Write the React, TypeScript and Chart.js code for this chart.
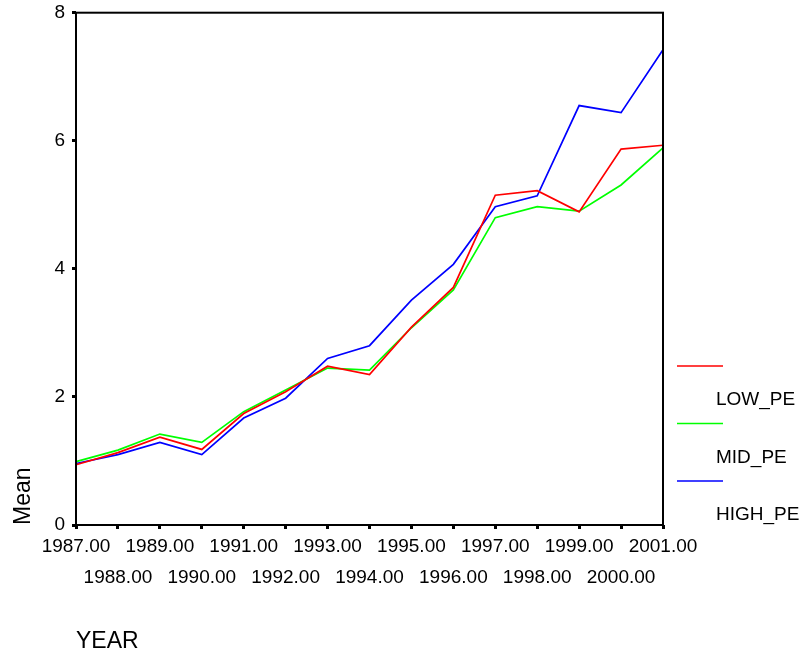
import React, { useEffect, useRef } from "react";
import { Chart, registerables } from "chart.js";
Chart.register(...registerables);

const years = [
  "1987.00", "1988.00", "1989.00", "1990.00", "1991.00", "1992.00", "1993.00", "1994.00",
  "1995.00", "1996.00", "1997.00", "1998.00", "1999.00", "2000.00", "2001.00",
];
const lowPE = [0.94, 1.13, 1.37, 1.18, 1.74, 2.08, 2.48, 2.35, 3.09, 3.71, 5.15, 5.22, 4.89, 5.87, 5.93];
const midPE = [0.99, 1.17, 1.42, 1.29, 1.77, 2.11, 2.45, 2.42, 3.08, 3.67, 4.8, 4.97, 4.9, 5.31, 5.89];
const highPE = [0.96, 1.1, 1.29, 1.1, 1.67, 1.98, 2.6, 2.8, 3.51, 4.07, 4.97, 5.14, 6.55, 6.44, 7.42];
const seriesNames = ["LOW_PE", "MID_PE", "HIGH_PE"];
const seriesColors = ["#ff0000", "#00ff00", "#0000ff"];
const yTicks = [0, 2, 4, 6, 8];

const FONT = "'Liberation Sans', Arial, sans-serif";

const framePlugin = {
  id: "frame",
  afterDraw(chart: any) {
    const { ctx, chartArea } = chart;
    ctx.save();
    ctx.strokeStyle = "#000";
    ctx.lineWidth = 2;
    ctx.strokeRect(chartArea.left, chartArea.top, chartArea.right - chartArea.left, chartArea.bottom - chartArea.top);
    ctx.restore();
  },
};

const legendPlugin = {
  id: "spssLegend",
  afterDraw(chart: any) {
    const { ctx } = chart;
    ctx.save();
    ctx.font = `19px ${FONT}`;
    ctx.textBaseline = "middle";
    ctx.textAlign = "left";
    chart.data.datasets.forEach((ds: any, i: number) => {
      const y = 366 + i * 57.5;
      ctx.strokeStyle = ds.borderColor;
      ctx.lineWidth = 1.5;
      ctx.beginPath();
      ctx.moveTo(677, y);
      ctx.lineTo(723, y);
      ctx.stroke();
      ctx.fillStyle = "#000";
      ctx.fillText(ds.label, 716, y + 34);
    });
    ctx.restore();
  },
};

export default function App() {
  const ref = useRef<HTMLCanvasElement | null>(null);
  useEffect(() => {
    if (!ref.current) return;
    const labels = years.map((y, i) => (i % 2 === 0 ? y : ["", y]));
    const chart = new Chart(ref.current, {
      type: "line",
      data: {
        labels,
        datasets: [lowPE, midPE, highPE].map((d, i) => ({
          label: seriesNames[i],
          data: d,
          borderColor: seriesColors[i],
          backgroundColor: seriesColors[i],
          borderWidth: 1.7,
          pointRadius: 0,
          tension: 0,
          fill: false,
        })),
      },
      options: {
        responsive: false,
        animation: false,
        layout: { padding: { left: 0, top: 6, right: 144, bottom: 0 } },
        plugins: { legend: { display: false }, tooltip: { enabled: false } },
        scales: {
          x: {
            type: "category",
            offset: false,
            border: { display: false },
            grid: { drawOnChartArea: false, tickLength: 4, tickWidth: 3, color: "#000", tickColor: "#000" },
            ticks: {
              autoSkip: false,
              maxRotation: 0,
              minRotation: 0,
              padding: 2,
              color: "#000",
              font: { family: FONT, size: 19, lineHeight: 1.63 },
            },
            title: {
              display: true,
              text: "YEAR",
              align: "start",
              color: "#000",
              padding: { top: 0, bottom: 0 },
              font: { family: FONT, size: 23, lineHeight: 1.2 },
            },
            afterFit(scale: any) {
              scale.height = 130;
            },
          },
          y: {
            min: 0,
            max: 8,
            border: { display: false },
            afterBuildTicks(scale: any) {
              scale.ticks = yTicks.map((v) => ({ value: v }));
            },
            grid: { drawOnChartArea: false, tickLength: 4, tickWidth: 3, color: "#000", tickColor: "#000" },
            ticks: {
              padding: 7,
              color: "#000",
              font: { family: FONT, size: 19, lineHeight: 0.6 },
            },
            title: {
              display: true,
              text: "Mean",
              align: "start",
              color: "#000",
              padding: { top: 10, bottom: 0 },
              font: { family: FONT, size: 23, lineHeight: 1.2 },
            },
            afterFit(scale: any) {
              scale.width = 76;
            },
          },
        },
      },
      plugins: [framePlugin, legendPlugin],
    });
    return () => chart.destroy();
  }, []);
  return (
    <div style={{ position: "fixed", left: 0, top: 0, width: 807, height: 655, background: "#fff" }}>
      <canvas ref={ref} width={807} height={655} style={{ width: 807, height: 655 }} />
    </div>
  );
}
